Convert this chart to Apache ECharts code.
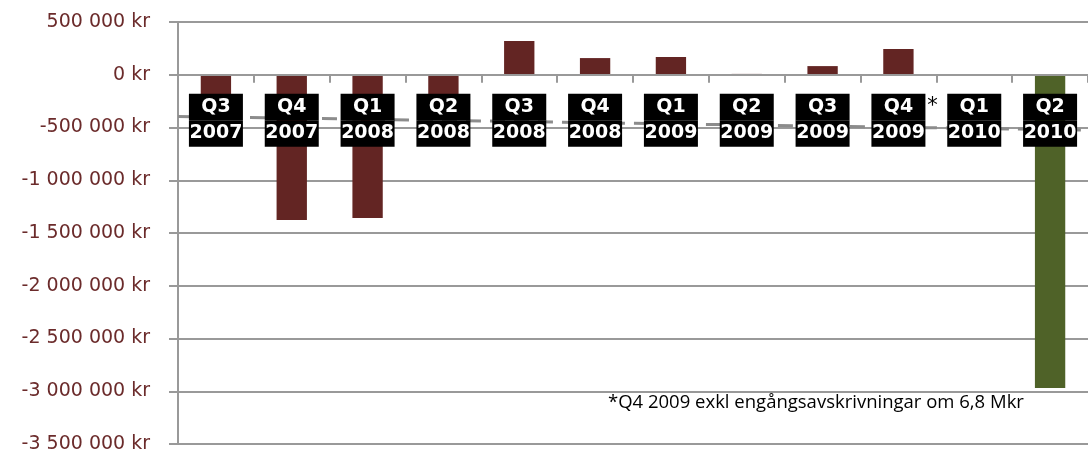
<!DOCTYPE html>
<html>
<head>
<meta charset="utf-8">
<script src="https://cdn.jsdelivr.net/npm/echarts@6/dist/echarts.min.js"></script>
<style>
  html, body { margin: 0; padding: 0; background: #fff; }
  #chart { width: 1088px; height: 454px; }
</style>
</head>
<body>
<div id="chart"></div>
<script>
// ---- data ----
const categories = ['Q3 2007', 'Q4 2007', 'Q1 2008', 'Q2 2008', 'Q3 2008', 'Q4 2008',
                    'Q1 2009', 'Q2 2009', 'Q3 2009', 'Q4 2009', 'Q1 2010', 'Q2 2010'];
const results = [-430000, -1377000, -1358000, -375000, 319000, 158000,
                 168000, 8000, 82000, 244000, -6000, -2970000];
const starredCategories = ['Q4 2009'];
const highlightCategory = 'Q2 2010';
const trendEnds = [-395000, -525000];       // linear trend at plot left / right edge
const yTicks = { min: -3500000, max: 500000, interval: 500000 };
const footnote = '*Q4 2009 exkl engångsavskrivningar om 6,8 Mkr';

// ---- styles ----
const RED = '#632523';
const GREEN = '#4f6228';
const GRID = '#999999';
const LABEL_RED = '#6b2b2b';

function fmtKr(v) {
  const neg = v < 0;
  const s = String(Math.abs(v)).replace(/\B(?=(\d{3})+(?!\d))/g, ' ');
  return (neg ? '-' : '') + s + ' kr';
}

function catLabel(v) {
  const parts = v.split(' ');
  if (starredCategories.includes(v)) {
    return '{sp| }{b|' + parts[0] + '}{s|*}\n{sp| }{b|' + parts[1] + '}{sp| }';
  }
  return '{b|' + parts[0] + '}\n{b|' + parts[1] + '}';
}

const chart = echarts.init(document.getElementById('chart'), null, { renderer: 'canvas' });

const option = {
  animation: false,
  backgroundColor: '#ffffff',
  grid: { left: 178, right: 0, top: 22, bottom: 10, containLabel: false, outerBoundsMode: 'none' },
  xAxis: [
    {
      type: 'category',
      data: categories,
      z: 10,
      axisLine: { onZero: true, lineStyle: { color: GRID, width: 2 } },
      axisTick: { show: true, length: 8, lineStyle: { color: GRID, width: 2 } },
      splitLine: { show: false },
      axisLabel: { show: false }
    },
    {
      type: 'value',
      show: false,
      min: -0.5,
      max: categories.length - 0.5
    }
  ],
  yAxis: {
    type: 'value',
    min: yTicks.min,
    max: yTicks.max,
    interval: yTicks.interval,
    axisLine: { show: true, onZero: false, lineStyle: { color: GRID, width: 2 } },
    axisTick: { show: true, length: 9, lineStyle: { color: GRID, width: 2 } },
    splitLine: { show: true, lineStyle: { color: GRID, width: 2 } },
    axisLabel: {
      margin: 28,
      color: LABEL_RED,
      fontFamily: 'DejaVu Sans',
      fontSize: 19,
      formatter: fmtKr
    }
  },
  series: [
    {
      type: 'bar',
      xAxisIndex: 0,
      barWidth: '40%',
      z: 2,
      data: results.map(function (v, i) {
        return {
          value: v,
          itemStyle: { color: categories[i] === highlightCategory ? GREEN : RED }
        };
      })
    },
    {
      type: 'line',
      xAxisIndex: 1,
      z: 3,
      symbol: 'none',
      silent: true,
      lineStyle: { color: '#8c8c8c', width: 3, type: [15, 9] },
      data: [[-0.5, trendEnds[0]], [categories.length - 0.5, trendEnds[1]]]
    },
    {
      // category label boxes anchored on the zero baseline
      type: 'scatter',
      xAxisIndex: 0,
      z: 20,
      symbolSize: 0,
      silent: true,
      itemStyle: { opacity: 1 },
      emphasis: { disabled: true },
      data: categories.map(function (c) { return [c, 0]; }),
      label: {
        show: true,
        position: 'bottom',
        distance: 19,
        opacity: 1,
        formatter: function (p) { return catLabel(p.value[0]); },
        rich: {
          b: {
            color: '#ffffff', backgroundColor: '#000000', opacity: 1,
            fontFamily: 'DejaVu Sans', fontWeight: 'bold', fontSize: 19,
            width: 54, height: 26.5, lineHeight: 26.5, align: 'center'
          },
          s: {
            color: '#000000', fontFamily: 'DejaVu Sans', fontSize: 21,
            width: 14, height: 26.5, lineHeight: 26.5, align: 'left'
          },
          sp: { width: 14, height: 26.5, lineHeight: 26.5 }
        }
      }
    }
  ],
  graphic: [
    {
      type: 'text',
      left: 608,
      top: 393,
      style: {
        text: footnote,
        fill: '#000000',
        fontFamily: 'Open Sans',
        fontSize: 18.5
      }
    }
  ]
};

chart.setOption(option);
</script>
</body>
</html>
